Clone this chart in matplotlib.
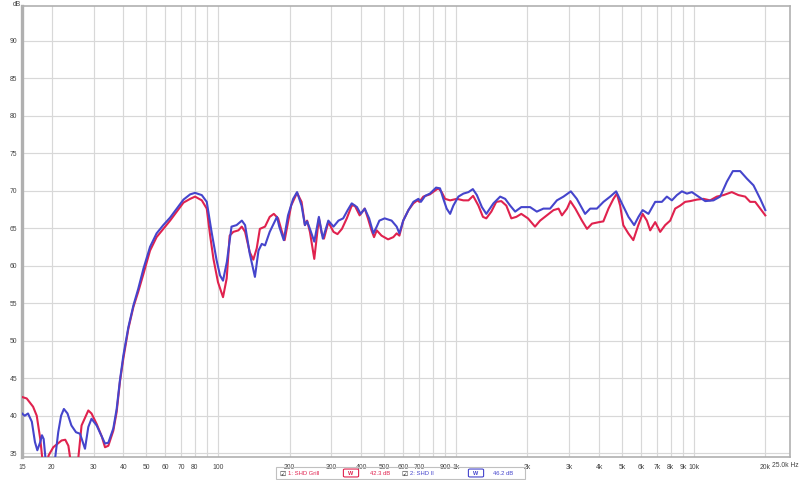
import matplotlib
matplotlib.use("Agg")
import matplotlib.pyplot as plt
from matplotlib.patches import FancyBboxPatch, Rectangle

plt.rcParams["font.family"] = ["Liberation Sans", "DejaVu Sans"]

# ---- data ----
red_freq = [15, 15.7, 16.7, 17.3, 17.9, 18.3, 18.8, 19.4, 20.3, 22.0, 22.8, 23.5, 24.0, 25.0, 25.9,
            26.7, 28.5, 29.4, 30.9, 32.5, 33.5, 34.6, 36.3, 37.5, 38.7, 40.0, 42.0, 44.1, 46.2,
            48.6, 51.8, 55.2, 58.9, 62.9, 67.1, 71.6, 76.4, 80.1, 85.5, 89.7, 92.7, 95.7, 100,
            105, 108.8, 112, 116, 121.8, 125.9, 130, 136, 140.8, 145.5, 150, 157.7, 165, 171.7,
            179, 185, 190.7, 197, 203, 215, 224.6, 232, 237, 243.5, 254, 259.6, 265.6, 273, 279,
            291, 306, 318, 332, 348, 365, 376, 394, 414, 427, 442, 453, 465, 487, 519, 546, 564,
            579, 601, 632, 663, 689, 703, 730, 778, 817, 844, 872, 901, 946, 1010, 1076, 1130,
            1182, 1244, 1300, 1343, 1410, 1479, 1553, 1630, 1711, 1796, 1884, 2010, 2152, 2261,
            2414, 2574, 2703, 2793, 2934, 3030, 3179, 3390, 3560, 3736, 4000, 4170, 4382, 4598,
            4752, 4907, 5057, 5310, 5573, 5850, 6100, 6354, 6562, 6888, 7228, 7587, 7963, 8358,
            8772, 9207, 9663, 10310, 10990, 11720, 12510, 13340, 14460, 15420, 16460, 17270,
            18130, 19030, 20000]
red_db = [42.5, 42.3, 41.2, 40.0, 36.9, 34.0, 32.5, 34.7, 35.8, 36.7, 36.8, 36.0, 34.0, 32.0, 34.5,
          38.7, 40.7, 40.3, 38.9, 37.2, 35.8, 36.0, 38.0, 40.5, 44.5, 47.6, 51.6, 54.5, 56.5,
          58.9, 62.0, 63.8, 64.9, 66.0, 67.2, 68.4, 68.9, 69.2, 68.7, 67.6, 64.0, 60.9, 57.8,
          55.8, 58.3, 64.0, 64.5, 64.7, 65.2, 64.5, 61.8, 60.8, 62.3, 64.9, 65.2, 66.5, 66.9,
          66.3, 64.7, 63.4, 65.8, 68.0, 69.7, 68.5, 65.4, 66.0, 64.5, 60.9, 63.6, 66.3, 64.3, 63.6,
          65.8, 64.5, 64.2, 64.9, 66.3, 68.0, 68.0, 66.7, 67.6, 66.3, 64.7, 63.8, 64.7, 64.0, 63.5, 63.8, 64.3,
          64.0, 66.0, 67.4, 68.3, 68.7, 68.5, 69.2, 69.5, 70.0, 70.3, 69.8, 68.9, 68.7, 68.9, 68.7, 68.7,
          69.3, 68.0, 66.5, 66.3, 67.2, 68.5, 68.6, 68.0, 66.3, 66.5, 66.9, 66.3, 65.2, 66.0,
          66.7, 67.4, 67.6, 66.7, 67.6, 68.6, 67.6, 66.0, 64.9, 65.6, 65.8, 65.9, 67.6, 68.9,
          69.6, 68.0, 65.4, 64.3, 63.4, 65.4, 66.9, 66.0, 64.7, 65.8, 64.5, 65.4, 66.0, 67.6,
          68.0, 68.5, 68.6, 68.8, 68.9, 68.7, 69.2, 69.4, 69.8, 69.4, 69.2, 68.5,
          68.5, 67.6, 66.7]

blue_freq = [15, 15.4, 15.9, 16.5, 17.0, 17.4, 17.9, 18.2, 18.5, 19.0, 19.8, 20.7, 21.3, 21.9, 22.5,
             23.3, 24.2, 25.3, 26.3, 27.0, 27.6, 28.5, 29.4, 30.9, 32.5, 33.5, 34.6, 36.3, 37.5,
             38.7, 40.0, 42.0, 44.1, 46.2, 48.6, 51.8, 55.2, 58.9, 62.9, 67.1, 71.6, 76.4, 80.1,
             85.5, 89.7, 94.1, 98.7, 102, 105, 109, 114, 119.7, 126, 130, 136, 143, 148, 152.8,
             157.7, 165, 177, 181, 189, 197, 207, 215, 224.6, 232, 237, 243.5, 254, 265.6, 276,
             291, 306, 321, 336, 351, 365, 384, 398, 414, 432, 450, 465, 477, 502, 537, 564, 579,
             601, 632, 663, 696, 713, 743, 778, 826, 858, 886, 915, 946, 976, 1025, 1076, 1130,
             1179, 1226, 1287, 1343, 1439, 1536, 1612, 1692, 1776, 1884, 2052, 2190, 2334, 2490,
             2660, 2835, 3044, 3225, 3495, 3670, 3917, 4175, 4455, 4720, 4989, 5318, 5620, 5859,
             6100, 6453, 6888, 7347, 7711, 8096, 8497, 8920, 9363, 9827, 10470, 11180, 12110,
             12920, 13790, 14610, 15680, 16730, 17840, 19040, 20000]
blue_db = [40.3, 40.0, 40.3, 39.2, 36.5, 35.4, 36.5, 37.4, 36.9, 33.0, 31.0, 34.5, 37.8, 40.0, 40.9,
           40.3, 38.7, 37.8, 37.6, 36.5, 35.6, 38.5, 39.6, 38.7, 37.2, 36.3, 36.4, 38.3, 40.9,
           44.7, 48.0, 51.8, 54.7, 56.9, 59.6, 62.5, 64.3, 65.4, 66.4, 67.6, 68.8, 69.5, 69.7,
           69.4, 68.5, 64.4, 60.7, 58.7, 58.0, 60.5, 65.2, 65.4, 66.0, 65.4, 61.6, 58.5, 62.0, 62.9,
           62.7, 64.5, 66.5, 65.2, 63.4, 66.7, 68.9, 69.8, 68.0, 65.4, 65.9, 64.9, 63.2, 66.5, 63.6,
           66.0, 65.2, 66.0, 66.3, 67.4, 68.3, 67.8, 66.9, 67.6, 66.3, 64.3, 65.2, 66.0, 66.3, 66.0, 65.2, 64.3,
           66.0, 67.4, 68.5, 68.9, 68.5, 69.3, 69.6, 70.4, 70.3, 68.9, 67.6, 66.9, 68.0, 69.2, 69.6, 69.8,
           70.2, 69.4, 67.8, 66.9, 68.3, 69.2, 68.9, 68.0, 67.2, 67.8, 67.8, 67.2, 67.6, 67.6,
           68.7, 69.2, 69.9, 68.9, 66.9, 67.6, 67.6, 68.5, 69.2, 69.9, 68.3, 66.5, 65.4, 66.5,
           67.4, 66.9, 68.5, 68.5, 69.2, 68.7, 69.4, 69.9, 69.6, 69.8, 69.2, 68.6, 68.7,
           69.2, 71.2, 72.6, 72.6, 71.6, 70.7, 68.9, 67.4]

grid_freqs = [20, 30, 40, 50, 60, 70, 80, 90, 100, 200, 300, 400, 500, 600, 700, 800, 900,
              1000, 2000, 3000, 4000, 5000, 6000, 7000, 8000, 9000, 10000, 20000]
label_freqs = [15, 20, 30, 40, 50, 60, 70, 80, 100, 200, 300, 400, 500, 600, 700, 900,
               1000, 2000, 3000, 4000, 5000, 6000, 7000, 8000, 9000, 10000, 20000]
label_texts = ["15", "20", "30", "40", "50", "60", "70", "80", "100", "200", "300", "400",
               "500", "600", "700", "900", "1k", "2k", "3k", "4k", "5k", "6k", "7k", "8k",
               "9k", "10k", "20k"]
y_ticks = [35, 40, 45, 50, 55, 60, 65, 70, 75, 80, 85, 90]

series_names = ["1: SHD Grill", "2: SHD II"]
series_levels = ["42.3 dB", "46.2 dB"]

RED = "#e0224e"
BLUE = "#4545cc"
TXT = "#444444"
FS = 4.9

fig = plt.figure(figsize=(8.0, 4.81), dpi=100)
ax = fig.add_axes([22 / 800, 1 - 458 / 481, (790 - 22) / 800, (458 - 7) / 481])
ax.set_xscale("log")
ax.set_xlim(15, 25400)
ax.set_ylim(34.5, 94.6)

ax.set_xticks(grid_freqs)
ax.set_xticks([], minor=True)
ax.set_xticklabels([])
ax.set_yticks(y_ticks)
ax.set_yticklabels([])
ax.grid(True, which="major", color="#d8d8d8", lw=0.85)
ax.tick_params(length=0)

for sp in ax.spines.values():
    sp.set_color("#b0b0b0")
    sp.set_linewidth(1.2)
ax.spines["left"].set_linewidth(2.4)

ax.plot(red_freq, red_db, color=RED, lw=1.5, solid_joinstyle="round", zorder=3)
ax.plot(blue_freq, blue_db, color=BLUE, lw=1.5, solid_joinstyle="round", zorder=4)

# tick labels as text via axes transforms
xtrans = ax.get_xaxis_transform()
for f, t in zip(label_freqs, label_texts):
    ax.text(f, -0.013, t, transform=xtrans, ha="center", va="top", fontsize=FS,
            color=TXT, clip_on=False)
fig.text(799 / 800, 1 - 462 / 481, "25.0k Hz", ha="right", va="top",
         fontsize=FS, color=TXT)
ytrans = ax.get_yaxis_transform()
for v in y_ticks:
    ax.text(-0.006, v, str(v), transform=ytrans, ha="right", va="center", fontsize=FS,
            color=TXT, clip_on=False)
fig.text(13 / 800, 1 - 4 / 481, "dB", ha="left", va="center", fontsize=FS, color=TXT)

# legend box at bottom
def fx(px):
    return px / 800

def fy(py):
    return 1 - py / 481

box = Rectangle((fx(276), fy(480)), fx(525) - fx(276), fy(468) - fy(480), transform=fig.transFigure,
                fill=False, edgecolor="#c0c0c0", lw=0.8)
fig.add_artist(box)
entries = [(series_names[0], series_levels[0], RED, 279, 345, 370),
           (series_names[1], series_levels[1], BLUE, 401, 470, 493)]
for name, lvl, col, xc, xi, xl in entries:
    fig.text(fx(xc), fy(474), "\u2611", ha="left", va="center", fontsize=5.0, color="#333333",
             family="DejaVu Sans")
    fig.text(fx(xc + 9), fy(474), name, ha="left", va="center", fontsize=4.2, color=col)
    icon = FancyBboxPatch((fx(xi), fy(477)), fx(12), fy(471) - fy(477),
                          boxstyle="round,pad=0.002", transform=fig.transFigure,
                          facecolor="white", edgecolor=col, lw=0.8)
    fig.add_artist(icon)
    fig.text(fx(xi + 6), fy(474), "W", ha="center", va="center", fontsize=4.0, color=col,
             fontweight="bold")
    fig.text(fx(xl), fy(474), lvl, ha="left", va="center", fontsize=4.2, color=col)

fig.savefig("out.png", dpi=100)
